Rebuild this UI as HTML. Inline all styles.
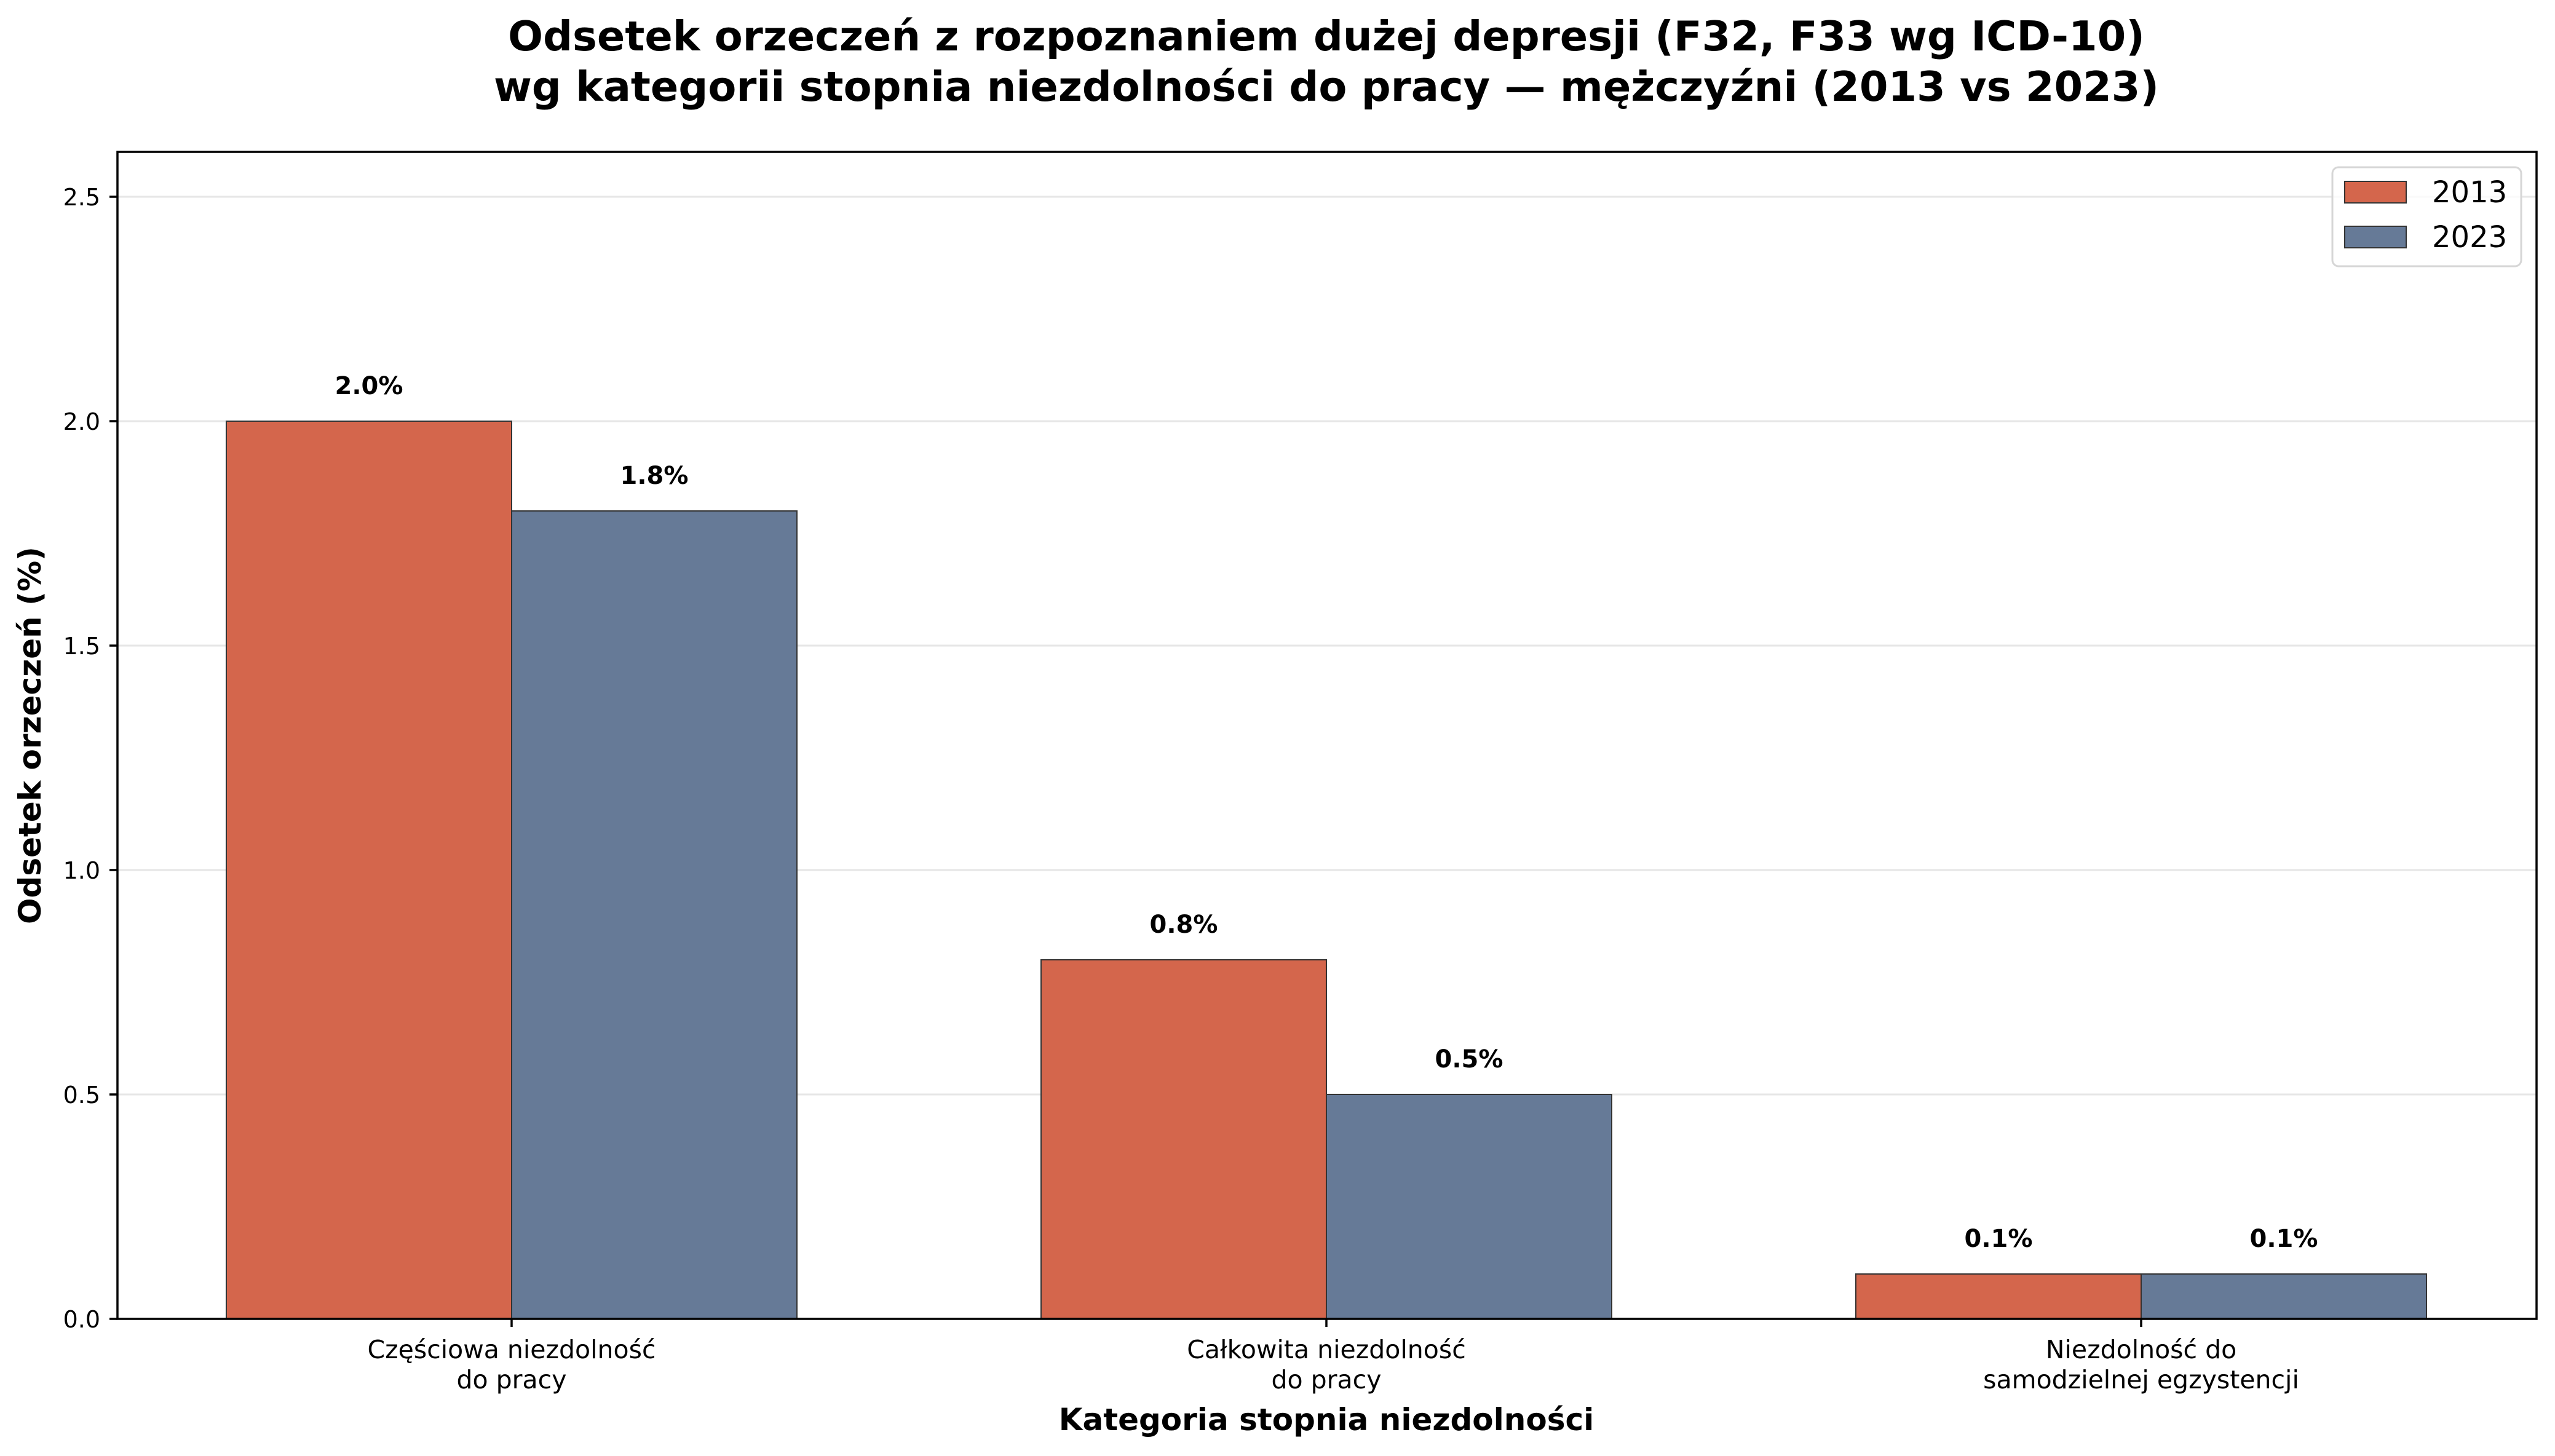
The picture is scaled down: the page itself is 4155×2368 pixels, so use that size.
<!DOCTYPE html>
<html><head><meta charset="utf-8"><style>html,body{margin:0;padding:0;background:#fff}</style></head>
<body>
<svg width="4155" height="2363" viewBox="0 0 4155 2363" xmlns="http://www.w3.org/2000/svg" font-family="'DejaVu Sans','Liberation Sans',sans-serif">
<rect width="4155" height="2363" fill="#fff"/>
<text x="2157" y="82" font-size="67" font-weight="bold" text-anchor="middle">Odsetek orzeczeń z rozpoznaniem dużej depresji (F32, F33 wg ICD-10)</text>
<text x="2157" y="164" font-size="67" font-weight="bold" text-anchor="middle">wg kategorii stopnia niezdolności do pracy — mężczyźni (2013 vs 2023)</text>
<g stroke="#e6e6e6" stroke-width="3">
<line x1="191" x2="4125" y1="320" y2="320"/><line x1="191" x2="4125" y1="685" y2="685"/>
<line x1="191" x2="4125" y1="1050" y2="1050"/><line x1="191" x2="4125" y1="1415" y2="1415"/>
<line x1="191" x2="4125" y1="1780" y2="1780"/>
</g>
<g stroke="#333" stroke-width="2">
<rect x="368" y="685" width="464" height="1460" fill="#D4664C"/>
<rect x="832" y="831" width="464" height="1314" fill="#667A97"/>
<rect x="1693" y="1561" width="464" height="584" fill="#D4664C"/>
<rect x="2157" y="1780" width="464" height="365" fill="#667A97"/>
<rect x="3018" y="2072" width="464" height="73" fill="#D4664C"/>
<rect x="3482" y="2072" width="464" height="73" fill="#667A97"/>
</g>
<g font-size="40" font-weight="bold" text-anchor="middle">
<text x="600" y="641">2.0%</text><text x="1064" y="787">1.8%</text>
<text x="1925" y="1517">0.8%</text><text x="2389" y="1736">0.5%</text>
<text x="3250" y="2028">0.1%</text><text x="3714" y="2028">0.1%</text>
</g>
<rect x="191" y="247" width="3934" height="1898" fill="none" stroke="#000" stroke-width="3.5"/>
<g stroke="#000" stroke-width="3.5">
<line x1="178" x2="191" y1="320" y2="320"/><line x1="178" x2="191" y1="685" y2="685"/>
<line x1="178" x2="191" y1="1050" y2="1050"/><line x1="178" x2="191" y1="1415" y2="1415"/>
<line x1="178" x2="191" y1="1780" y2="1780"/><line x1="178" x2="191" y1="2145" y2="2145"/>
<line x1="832" x2="832" y1="2145" y2="2158"/><line x1="2157" x2="2157" y1="2145" y2="2158"/><line x1="3482" x2="3482" y1="2145" y2="2158"/>
</g>
<g font-size="38" text-anchor="end">
<text x="163" y="334">2.5</text><text x="163" y="699">2.0</text><text x="163" y="1064">1.5</text>
<text x="163" y="1429">1.0</text><text x="163" y="1794">0.5</text><text x="163" y="2159">0.0</text>
</g>
<g font-size="41" text-anchor="middle">
<text x="832" y="2209">Częściowa niezdolność</text><text x="832" y="2258">do pracy</text>
<text x="2157" y="2209">Całkowita niezdolność</text><text x="2157" y="2258">do pracy</text>
<text x="3482" y="2209">Niezdolność do</text><text x="3482" y="2258">samodzielnej egzystencji</text>
</g>
<text x="2157" y="2326" font-size="50" font-weight="bold" text-anchor="middle">Kategoria stopnia niezdolności</text>
<text transform="translate(66,1196) rotate(-90)" font-size="50" font-weight="bold" text-anchor="middle">Odsetek orzeczeń (%)</text>
<rect x="3793" y="272" width="307" height="161" rx="10" fill="#fff" fill-opacity="0.8" stroke="#d6d6d6" stroke-width="3"/>
<rect x="3813" y="295" width="100" height="35" fill="#D4664C" stroke="#333" stroke-width="2"/>
<rect x="3813" y="368" width="100" height="35" fill="#667A97" stroke="#333" stroke-width="2"/>
<text x="3955" y="329" font-size="48">2013</text>
<text x="3955" y="402" font-size="48">2023</text>
</svg>
</body></html>
